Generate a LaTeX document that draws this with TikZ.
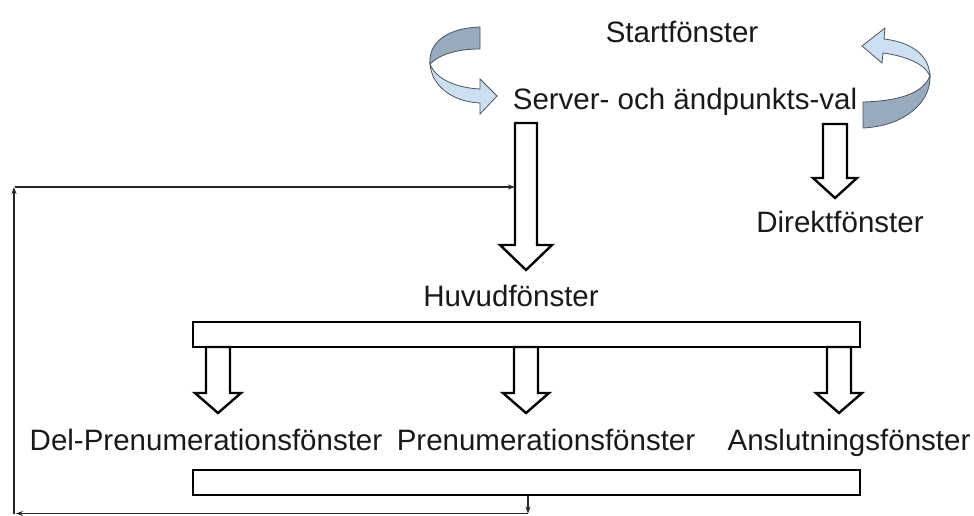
\documentclass[tikz,border=0pt]{standalone}
\usepackage{fontspec}
\setmainfont{Liberation Sans}
\usetikzlibrary{arrows.meta}

\definecolor{ribbonback}{HTML}{98AABD}
\definecolor{ribbonfront}{HTML}{CDE0F2}
\definecolor{ribbonedge}{HTML}{4A5560}

% hollow block arrow pointing down: x centre, top, start of head, tip,
% half width of the shaft, half width of the head
\newcommand\dnblock[6]{%
  \draw[blockarrow] (#1-#5,#2) -- (#1+#5,#2) -- (#1+#5,#3) -- (#1+#6,#3)
    -- (#1,#4) -- (#1-#6,#3) -- (#1-#5,#3) -- cycle;}

\begin{document}
\begin{tikzpicture}[x=1pt,y=-1pt,
  label/.style={inner sep=0pt, anchor=base, font=\fontsize{29.5}{32}\selectfont, text=black!90},
  bar/.style={draw=black, line width=2.2pt, fill=white, minimum width=667pt,
    minimum height=25pt, inner sep=0pt},
  blockarrow/.style={draw=black, line width=2.4pt, fill=white, line join=miter},
  feed/.style={draw=black!85, line width=1.3pt, -{Stealth[length=7pt,width=5pt]}},
  ribbon/.style={draw=ribbonedge, line width=0.8pt}]

\useasboundingbox (0,0) rectangle (974,516);

% window labels (placed on their baselines)
\node[label] (start)  at (682,42.5)  {Startfönster};
\node[label] (server) at (685,109.5) {Server- och ändpunkts-val};
\node[label] (direkt) at (840,232.5) {Direktfönster};
\node[label] (huvud)  at (511,306.5) {Huvudfönster};
\node[label] (delpre) at (206,450.5) {Del-Prenumerationsfönster};
\node[label] (prenum) at (546,450.5) {Prenumerationsfönster};
\node[label] (anslut) at (849,450.5) {Anslutningsfönster};

% horizontal bars
\node[bar] (topbar) at (526.5,334.5) {};
\node[bar] (botbar) at (526.5,482.5) {};

% block arrows
\dnblock{526}{123}{245}{270}{11}{26}
\dnblock{835}{124}{178}{198}{12}{22}
\dnblock{218}{347}{393}{413}{12}{23}
\dnblock{526}{347}{393}{413}{12}{23}
\dnblock{839}{347}{393}{413}{12}{23}

% twisted ribbon arrow on the left
\filldraw[ribbon, fill=ribbonback] (480,27) .. controls (448,28) and (428,42) .. (430,64)
  .. controls (440,54) and (458,49) .. (480,49) -- cycle;
\filldraw[ribbon, fill=ribbonfront] (430,64) .. controls (432,88) and (455,102) .. (480,103)
  -- (480,114) -- (497,96) -- (480,79) -- (480,89)
  .. controls (458,88) and (436,80) .. (430,64) -- cycle;

% twisted ribbon arrow on the right
\filldraw[ribbon, fill=ribbonback] (863,102) .. controls (900,101) and (923,93) .. (930,76)
  .. controls (931,102) and (905,126) .. (863,128) -- cycle;
\filldraw[ribbon, fill=ribbonfront] (930,76) .. controls (929,54) and (910,42) .. (884,39)
  -- (885,28) -- (862,46) -- (882,63) -- (883,53)
  .. controls (905,56) and (924,63) .. (930,76) -- cycle;

% feedback loop from the lower windows back to the main window
\coordinate (down) at (528,513.5);
\coordinate (corner) at (14,513.5);
\coordinate (upper) at (14,187);
\draw[feed] (botbar.south -| down) -- (down);
\draw[feed] (down) -- ([xshift=2pt]corner);
\draw[feed] (corner) -- (upper);
\draw[feed] ([xshift=1pt]upper) -- (515,187);

\end{tikzpicture}
\end{document}
